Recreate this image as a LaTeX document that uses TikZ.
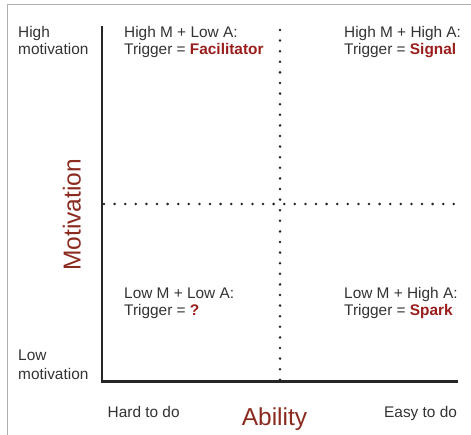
\documentclass[tikz,border=0pt]{standalone}
\usepackage{fontspec}
\setmainfont{Liberation Sans}
\definecolor{txt}{HTML}{333333}
\definecolor{accent}{HTML}{9A1E1C}
\definecolor{axislbl}{HTML}{8B2A1E}
\definecolor{frame}{HTML}{B0B0B0}
\begin{document}
\begin{tikzpicture}[x=1pt,y=-1pt,
  lbl/.style={anchor=base west,inner sep=0pt,text=txt,font=\fontsize{15.4}{17}\selectfont},
  big/.style={anchor=base,inner sep=0pt,text=axislbl,font=\fontsize{24.5}{28}\selectfont},
  hl/.style={text=accent,font=\bfseries},
  axisline/.style={line width=2.4pt,draw=black!85},
  dotline/.style={line width=2.8pt,draw=black!85,line cap=round,dash pattern=on 0pt off 10.6pt}]
\useasboundingbox (0,0) rectangle (471,435);
\fill[white] (0,0) rectangle (471,435);
% frame
\draw[frame,line width=1pt] (7.5,435) -- (7.5,5) -- (471,5);
% axes
\coordinate (top) at (102,26);
\coordinate (origin) at (102,381.5);
\coordinate (right) at (458,381.5);
\draw[axisline] (top) -- (origin) -- (right);
% dotted dividers
\coordinate (vt) at (280,30);
\coordinate (vb) at (280,381);
\coordinate (hl) at (104,204);
\coordinate (hr) at (458,204);
\draw[dotline] (vt) -- (vb);
\draw[dotline] (hl) -- (hr);
% left labels
\node[lbl] (hm1) at (18,37.7) {High};
\node[lbl] (hm2) at (18,54.5) {motivation};
\node[lbl] (lm1) at (18,360.7) {Low};
\node[lbl] (lm2) at (18,379) {motivation};
% quadrants
\node[lbl] (q1a) at (124,37.7) {High M + Low A:};
\node[lbl] (q1b) at (124,54.5) {Trigger = {\color{accent}\bfseries Facilitator}};
\node[lbl] (q2a) at (344,37.7) {High M + High A:};
\node[lbl] (q2b) at (344,54.5) {Trigger = {\color{accent}\bfseries Signal}};
\node[lbl] (q3a) at (124,298.3) {Low M + Low A:};
\node[lbl] (q3b) at (124,315.5) {Trigger = {\color{accent}\bfseries ?}};
\node[lbl] (q4a) at (344,298.3) {Low M + High A:};
\node[lbl] (q4b) at (344,315.5) {Trigger = {\color{accent}\bfseries Spark}};
% bottom labels
\node[lbl] (hard) at (107.5,417) {Hard to do};
\node[lbl] (easy) at (384,417) {Easy to do};
% axis titles
\node[big,rotate=90] (mot) at (80.5,215) {Motivation};
\node[big] (abl) at (274.5,425) {Ability};
\end{tikzpicture}
\end{document}
